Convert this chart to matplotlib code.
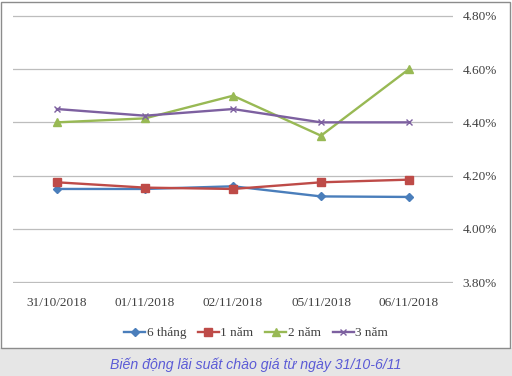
import matplotlib.pyplot as plt
from matplotlib.patches import Rectangle
from matplotlib.ticker import FuncFormatter

# du lieu
dates = ['31/10/2018', '01/11/2018', '02/11/2018', '05/11/2018', '06/11/2018']
thang6 = [4.15, 4.15, 4.16, 4.122, 4.12]
nam1 = [4.175, 4.155, 4.15, 4.175, 4.185]
nam2 = [4.40, 4.415, 4.50, 4.35, 4.60]
nam3 = [4.45, 4.425, 4.45, 4.40, 4.40]

plt.rcParams['font.family'] = ['Liberation Serif', 'DejaVu Serif']

fig = plt.figure(figsize=(5.12, 3.76), dpi=100)
W, H = 512, 376

# nen xam cho chu thich + khung bieu do
fig.patches.append(Rectangle((0, 0), 1, 28 / H, transform=fig.transFigure,
                             facecolor='#e6e6e6', edgecolor='none', zorder=-3))
fig.patches.append(Rectangle((1 / W, 28 / H), 509 / W, 346 / H, transform=fig.transFigure,
                             facecolor='white', edgecolor='#8c8c8c', linewidth=1.0, zorder=-2))

ax = fig.add_axes([13 / W, 93 / H, 440 / W, 268 / H])
ax.set_facecolor('none')
x = range(len(dates))

ax.plot(x, thang6, color='#4a7ebb', lw=1.7, marker='D', ms=4, label='6 tháng')
ax.plot(x, nam1, color='#be4b48', lw=1.7, marker='s', ms=6, label='1 năm')
ax.plot(x, nam2, color='#98b954', lw=1.7, marker='^', ms=6, label='2 năm')
ax.plot(x, nam3, color='#7d60a0', lw=1.7, marker='x', ms=5, mew=1.0, label='3 năm')

ax.set_xlim(-0.5, 4.5)
ax.set_ylim(3.797, 4.803)
ax.set_yticks([3.80, 4.00, 4.20, 4.40, 4.60, 4.80])
ax.yaxis.set_major_formatter(FuncFormatter(lambda v, p: '%.2f%%' % v))
ax.yaxis.tick_right()
ax.set_xticks(list(x))
ax.set_xticklabels(dates)
ax.tick_params(axis='both', length=0, labelsize=9.5, colors='#404040')
ax.tick_params(axis='y', pad=7)
ax.tick_params(axis='x', pad=10)
ax.grid(axis='y', color='#bdbdbd', lw=0.9)
ax.set_axisbelow(True)
for s in ax.spines.values():
    s.set_visible(False)

ax.legend(loc='upper center', bbox_to_anchor=(243 / 440, -0.12), ncol=4, frameon=False,
          fontsize=9.5, handlelength=1.6, handletextpad=0.1, columnspacing=0.9,
          labelcolor='#404040')

fig.text(256 / W, 11 / H, 'Biến động lãi suất chào giá từ ngày 31/10-6/11',
         family='Liberation Sans', style='italic', fontsize=10.2, color='#5b5bd6',
         ha='center', va='center')

plt.savefig('out.png', dpi=100)
